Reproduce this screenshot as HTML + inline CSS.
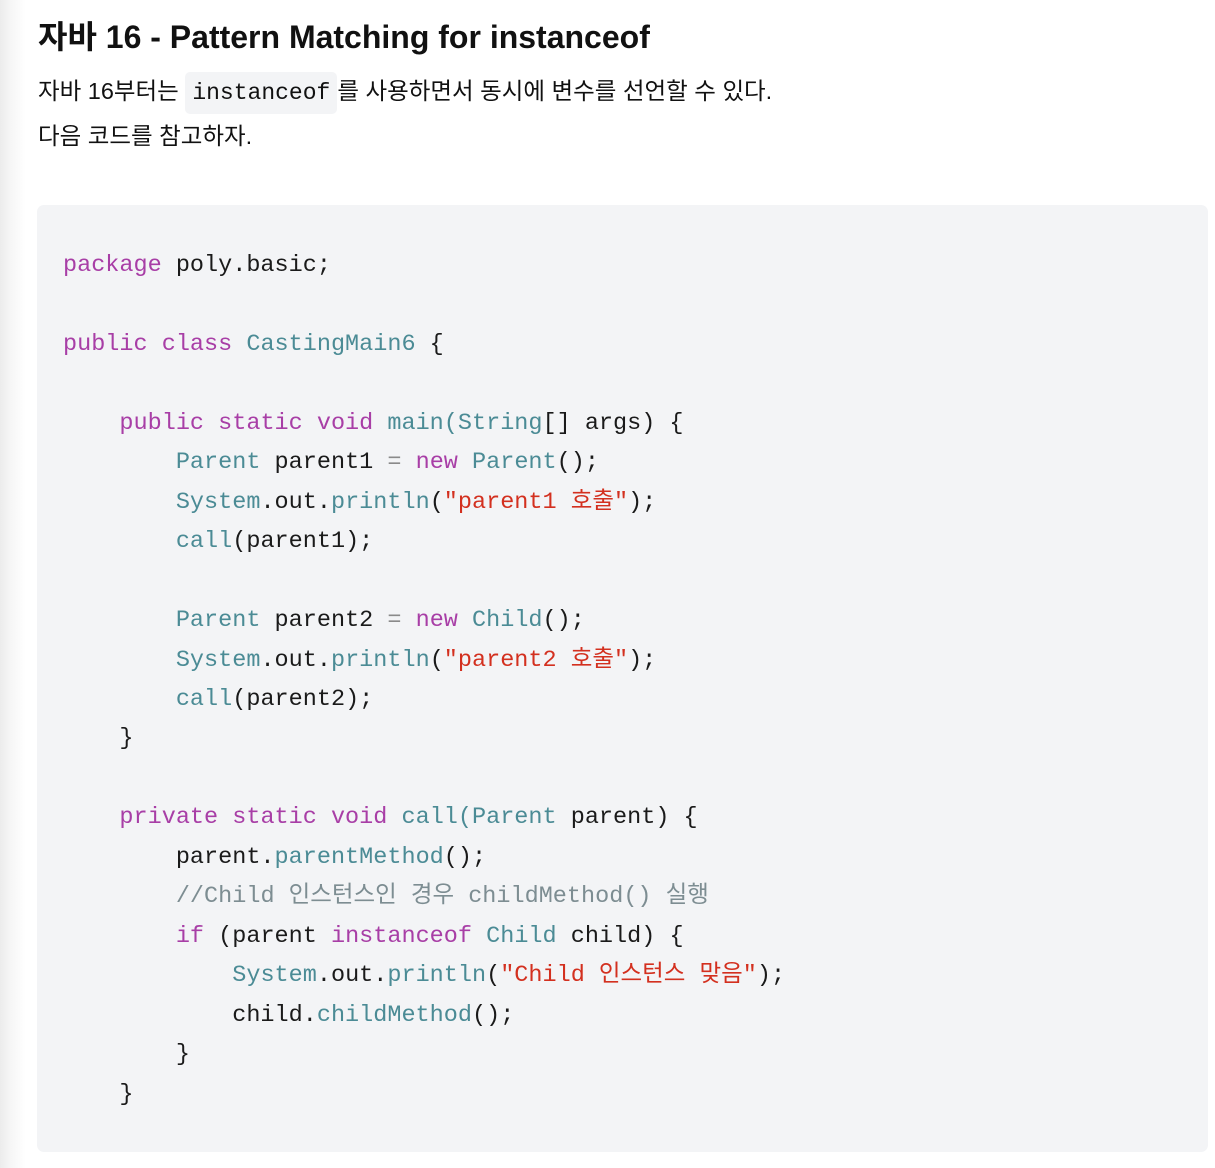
<!DOCTYPE html>
<html><head><meta charset="utf-8"><style>
html,body{margin:0;padding:0;width:1215px;height:1168px;overflow:hidden;background:#fff;}
body{background:linear-gradient(to right,#ececec 0px,#f7f7f7 12px,#fff 26px);font-family:"Liberation Sans","Noto Sans CJK KR",sans-serif;color:#111;position:relative;}
h1{position:absolute;left:38px;top:15px;margin:0;font-size:32px;font-weight:bold;line-height:44px;}
.p{position:absolute;left:38px;font-size:23.5px;line-height:32px;margin:0;white-space:nowrap;}
.ic{font-family:"Liberation Mono","Noto Sans CJK KR",monospace;background:#f3f4f6;border-radius:5px;padding:8px 7px;font-size:23px;}
pre{position:absolute;left:37px;top:205px;width:1171px;height:947px;box-sizing:border-box;margin:0;background:#f3f4f6;border-radius:7px;padding:41px 0 0 26px;font-family:"Liberation Mono","Noto Sans CJK KR",monospace;font-size:23.5px;line-height:39.45px;color:#1a1a1a;}
.k{color:#a83ea6}.t{color:#4b8b95}.s{color:#d3301f}.c{color:#7d8d92}.o{color:#8a8a8a}
</style></head><body>
<h1>자바 16 - Pattern Matching for instanceof</h1>
<div class="p" style="top:75px">자바 16부터는 <span class="ic">instanceof</span>를 사용하면서 동시에 변수를 선언할 수 있다.</div>
<div class="p" style="top:120px">다음 코드를 참고하자.</div>
<pre><span class="k">package</span> poly.basic;

<span class="k">public class</span> <span class="t">CastingMain6</span> {

    <span class="k">public static void</span> <span class="t">main(String</span>[] args) {
        <span class="t">Parent</span> parent1 <span class="o">=</span> <span class="k">new</span> <span class="t">Parent</span>();
        <span class="t">System</span>.out.<span class="t">println</span>(<span class="s">"parent1 호출"</span>);
        <span class="t">call</span>(parent1);

        <span class="t">Parent</span> parent2 <span class="o">=</span> <span class="k">new</span> <span class="t">Child</span>();
        <span class="t">System</span>.out.<span class="t">println</span>(<span class="s">"parent2 호출"</span>);
        <span class="t">call</span>(parent2);
    }

    <span class="k">private static void</span> <span class="t">call(Parent</span> parent) {
        parent.<span class="t">parentMethod</span>();
        <span class="c">//Child 인스턴스인 경우 childMethod() 실행</span>
        <span class="k">if</span> (parent <span class="k">instanceof</span> <span class="t">Child</span> child) {
            <span class="t">System</span>.out.<span class="t">println</span>(<span class="s">"Child 인스턴스 맞음"</span>);
            child.<span class="t">childMethod</span>();
        }
    }</pre>
</body></html>
